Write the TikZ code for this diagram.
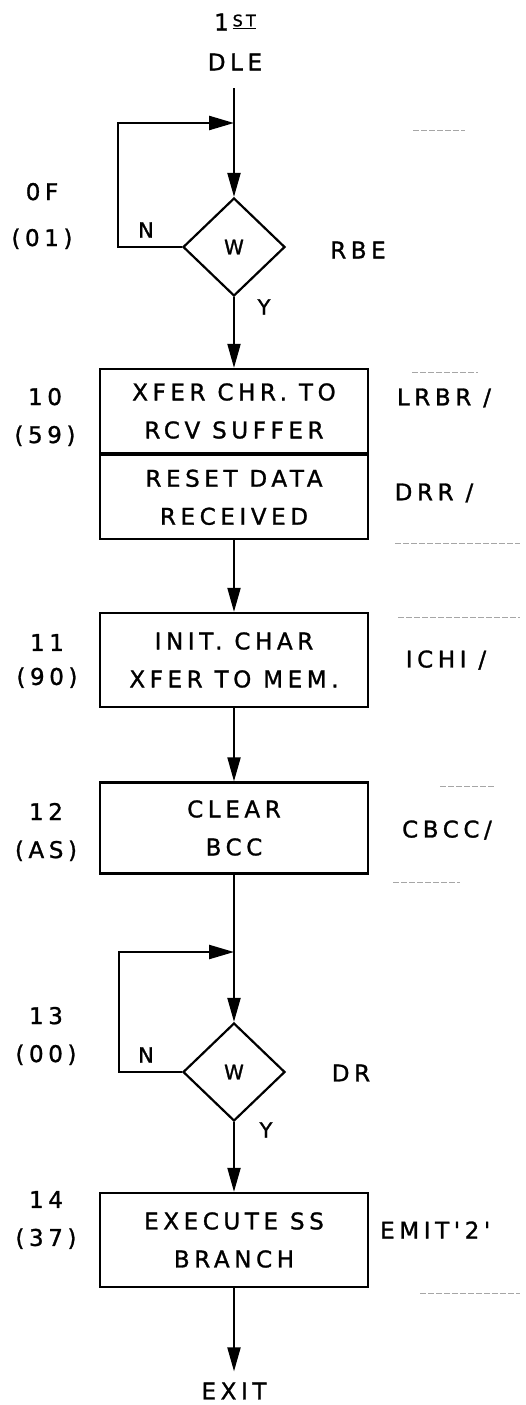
\documentclass[tikz,border=0pt]{standalone}
\usepackage{fontspec}
\newfontfamily\hand[LetterSpace=20, FakeBold=1.2]{DejaVu Sans}
\usetikzlibrary{arrows.meta,positioning,shapes.geometric}
\tikzset{
  txt/.style={font=\hand\fontsize{23}{38}\selectfont, inner sep=1pt, align=center},
  procbox/.style={txt, draw, line width=2.3pt, minimum width=268pt, inner sep=0pt},
  decision/.style={diamond, draw, line width=2.2pt, minimum width=102pt, minimum height=98pt,
                   inner sep=0pt, font=\hand\fontsize{20}{20}\selectfont},
  steplabel/.style={txt},
  sidelabel/.style={txt},
  branch/.style={font=\hand\fontsize{21}{21}\selectfont, inner sep=1pt},
  flow/.style={line width=2pt, -{Triangle[length=24pt, width=13pt]}},
  loopline/.style={line width=2.4pt, -{Triangle[length=25pt, width=14pt]}},
  ruling/.style={draw=black!35, line width=0.8pt, dash pattern=on 6pt off 2pt},
}
\begin{document}
\begin{tikzpicture}[x=1pt, y=-1pt]
\useasboundingbox (0,0) rectangle (526,1405);

% faint ruling at the right margin
\foreach \ya/\xa/\xb in {130/413/465, 372/412/478, 543/395/520, 617/398/520,
                         786/440/495, 882/393/460, 1293/420/520}
  \draw[ruling] (\xa,\ya) -- (\xb,\ya);

% entry
\node[txt] (first) at (235,22) {1\,\raisebox{4pt}{\fontsize{16}{16}\selectfont\underline{ST}}};
\node[txt] (dle) at (235,62) {DLE};
\coordinate (in1) at (234,88);

% step 0F : wait for RBE
\node[decision] (wait1) at (234,247) {W};
\coordinate (join1) at (234,123);
\node[steplabel, font=\hand\fontsize{23}{46}\selectfont] (s0f) at (42,216) {0F\\(01)};
\node[branch] (n1) at (146,230) {N};
\node[branch] (y1) at (264,307) {Y};
\node[sidelabel] (rbe) at (358,250) {RBE};

% step 10
\node[procbox, minimum height=84pt] (xfer) at (234,411) {XFER CHR. TO\\RCV SUFFER};
\node[procbox, minimum height=84pt, below=0pt of xfer] (reset) {RESET DATA\\RECEIVED};
\node[steplabel] (s10) at (45,417) {10\\(59)};
\node[sidelabel] (lrbr) at (444,398) {LRBR /};
\node[sidelabel] (drr) at (434,493) {DRR /};

% step 11
\node[procbox, minimum height=94pt] (init) at (234,660) {INIT. CHAR\\XFER TO MEM.};
\node[steplabel, font=\hand\fontsize{23}{34}\selectfont] (s11) at (47,661) {11\\(90)};
\node[sidelabel] (ichi) at (446,660) {ICHI /};

% step 12
\node[procbox, minimum height=91pt] (clear) at (234,828) {CLEAR\\BCC};
\node[steplabel] (s12) at (46,832) {12\\(AS)};
\node[sidelabel] (cbcc) at (447,830) {CBCC/};

% step 13 : wait for DR
\node[decision] (wait2) at (234,1072) {W};
\coordinate (join2) at (234,952);
\node[steplabel] (s13) at (46,1036) {13\\(00)};
\node[branch] (n2) at (146,1055) {N};
\node[branch] (y2) at (266,1130) {Y};
\node[sidelabel] (dr) at (351,1073) {DR};

% step 14
\node[procbox, minimum height=94pt] (exec) at (234,1240) {EXECUTE SS\\BRANCH};
\node[steplabel] (s14) at (46,1220) {14\\(37)};
\node[sidelabel, anchor=west] (emit) at (379,1230) {EMIT'2'};

\node[txt] (exit) at (234,1391) {EXIT};

% connectors
\draw[flow] (in1) -- (wait1.north);
\draw[loopline] (wait1.west) -- ++(-64,0) |- (join1);
\draw[flow] (wait1.south) -- (xfer.north);
\draw[flow] (reset.south) -- (init.north);
\draw[flow] (init.south) -- (clear.north);
\draw[flow] (clear.south) -- (wait2.north);
\draw[loopline] (wait2.west) -- ++(-63,0) |- (join2);
\draw[flow] (wait2.south) -- (exec.north);
\draw[flow, shorten >=10pt] (exec.south) -- (exit.north);
\end{tikzpicture}
\end{document}
